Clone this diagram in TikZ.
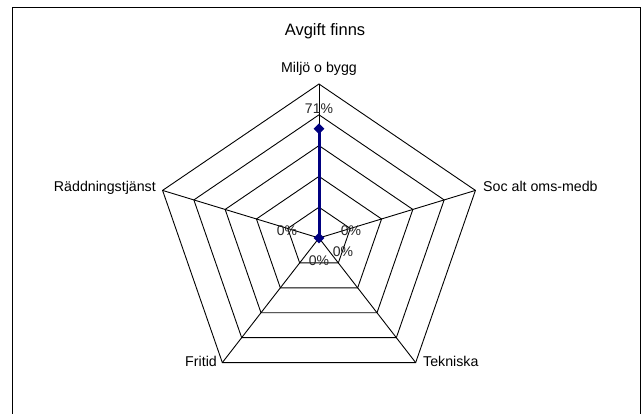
\documentclass[tikz,border=0pt]{standalone}
\usepackage{fontspec}
\setmainfont{Liberation Sans}
\usetikzlibrary{shapes.geometric}
\definecolor{navyblue}{HTML}{000080}
\begin{document}
\begin{tikzpicture}[x=1pt,y=-1pt,
  lbl/.style={font=\fontsize{14.2}{17}\selectfont, inner sep=0pt},
  ttl/.style={font=\fontsize{16.5}{19}\selectfont, inner sep=0pt},
  pct/.style={font=\fontsize{14}{17}\selectfont, text=black!85, inner sep=0pt},
  gridline/.style={draw=black, line width=0.9pt, line join=miter},
  series/.style={draw=navyblue, line width=3pt},
  marker/.style={diamond, fill=navyblue, minimum width=11pt, minimum height=11pt, inner sep=0pt}]
\useasboundingbox (0,0) rectangle (642,414);
\clip (0,0) rectangle (642,414);
\fill[white] (0,0) rectangle (642,414);
\draw[line width=1.2pt] (12.5,7.5) rectangle (640.5,430);
% geometry
\coordinate (c) at (319,238);
\foreach \k in {0,...,4}{
  \foreach \j in {1,...,5}{
    \coordinate (P-\k-\j) at ({319+1.068*30.8*\j*cos(90-72*\k)}, {238-30.8*\j*sin(90-72*\k)});
  }
}
% rings
\foreach \j in {1,...,5}{
  \draw[gridline] (P-0-\j) -- (P-1-\j) -- (P-2-\j) -- (P-3-\j) -- (P-4-\j) -- cycle;
}
% spokes
\foreach \k in {0,...,4}{
  \draw[gridline] (c) -- (P-\k-5);
}
% series
\coordinate (d0) at (319,128.7);
\draw[series] (c) -- (d0);
\node[marker] (m0) at (d0) {};
\node[marker] (mc) at (c) {};
% title and axis labels
\node[ttl, anchor=base] (title) at (325,36) {Avgift finns};
\node[lbl, anchor=base] (a0) at (319,72.3) {Miljö o bygg};
\node[lbl, anchor=base west] (a1) at (483,191) {Soc alt oms-medb};
\node[lbl, anchor=base west] (a2) at (423,366.5) {Tekniska};
\node[lbl, anchor=base east] (a3) at (217,366.5) {Fritid};
\node[lbl, anchor=base east] (a4) at (156,191) {Räddningstjänst};
% data labels
\node[pct, anchor=base] (v0) at (319,114) {71\%};
\node[pct, anchor=base] (v1) at (351,235.7) {0\%};
\node[pct, anchor=base] (v2) at (343,256.7) {0\%};
\node[pct, anchor=base] (v3) at (319,265.7) {0\%};
\node[pct, anchor=base] (v4) at (287,235.7) {0\%};
\end{tikzpicture}
\end{document}
